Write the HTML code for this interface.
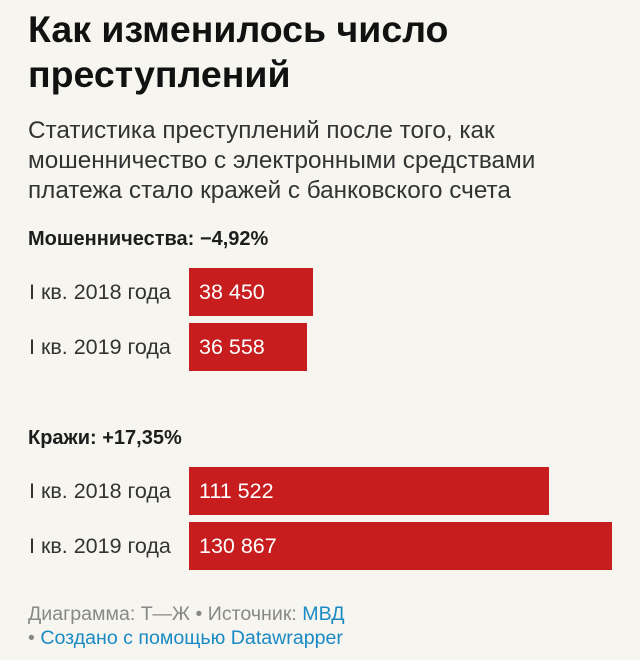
<!DOCTYPE html>
<html><head><meta charset="utf-8"><style>
body{margin:0;width:640px;height:660px;background:#f6f5ef;font-family:"Liberation Sans",sans-serif;color:#1d1d1d;position:relative;overflow:hidden}
div{position:absolute;white-space:nowrap}
.t{left:28px;top:7px;font-size:37.5px;font-weight:bold;line-height:45px;color:#111}
.s{left:28px;top:116px;font-size:24.3px;line-height:30px;color:#333}
.h{left:28px;font-size:20px;font-weight:bold;color:#1d1d1d}
.l{left:29px;font-size:21.5px;color:#333;line-height:48px}
.b{left:189px;height:48px;background:#c81d1f;color:#fff;font-size:21.5px;line-height:48px;padding-left:10px;box-sizing:border-box}
.f{left:28px;font-size:19.6px;color:#888;line-height:24px}
a{color:#1a8ac4;text-decoration:none}
</style></head><body>
<div class="t">Как изменилось число<br>преступлений</div>
<div class="s">Статистика преступлений после того, как<br>мошенничество с электронными средствами<br>платежа стало кражей с банковского счета</div>
<div class="h" style="top:228px">Мошенничества: −4,92%</div>
<div class="l" style="top:268px">I кв. 2018 года</div>
<div class="b" style="top:268px;width:124px">38 450</div>
<div class="l" style="top:323px">I кв. 2019 года</div>
<div class="b" style="top:323px;width:118px">36 558</div>
<div class="h" style="top:427px">Кражи: +17,35%</div>
<div class="l" style="top:467px">I кв. 2018 года</div>
<div class="b" style="top:467px;width:360px">111 522</div>
<div class="l" style="top:522px">I кв. 2019 года</div>
<div class="b" style="top:522px;width:423px">130 867</div>
<div class="f" style="top:602px">Диаграмма: Т—Ж • Источник: <a>МВД</a><br>• <a>Создано с помощью Datawrapper</a></div>
</body></html>
